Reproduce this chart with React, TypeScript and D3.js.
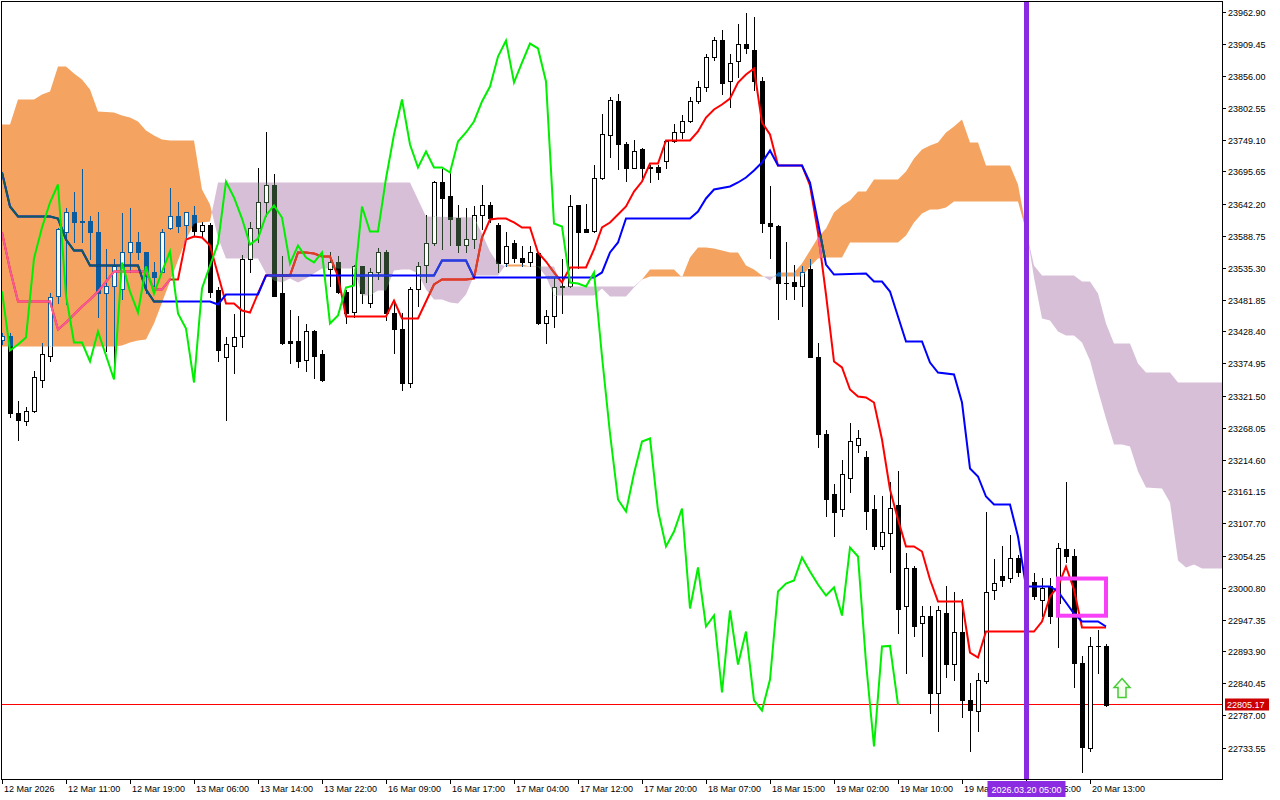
import React from "react";
import * as d3 from "d3";

// H1 candles, oldest first
const opens = [
  23415.0, 23421.7, 23293.1, 23279.7, 23294.8, 23346.6, 23388.3, 23486.9, 23595.4, 23627.2,
  23610.5, 23613.8, 23593.8, 23491.9, 23503.6, 23498.6, 23562.0, 23578.7, 23560.4, 23528.6,
  23528.6, 23602.1, 23620.5, 23605.5, 23623.8, 23597.1, 23607.1, 23496.9, 23385.0, 23405.0,
  23420.1, 23550.3, 23602.1, 23643.9, 23672.3, 23491.9, 23411.7, 23411.7, 23380.0, 23428.4,
  23390.0, 23532.0, 23543.7, 23495.2, 23461.8, 23537.0, 23476.8, 23528.6, 23562.0, 23458.5,
  23433.4, 23343.2, 23498.6, 23540.3, 23575.4, 23678.9, 23653.9, 23618.8, 23573.7, 23583.7,
  23622.2, 23638.9, 23605.5, 23542.0, 23575.4, 23552.0, 23543.7, 23558.7, 23443.4, 23453.5,
  23501.9, 23503.6, 23638.9, 23598.8, 23597.1, 23685.6, 23755.8, 23814.2, 23742.4, 23702.3,
  23732.4, 23704.0, 23704.0, 23712.4, 23745.8, 23760.8, 23779.2, 23812.6, 23837.6, 23886.1,
  23914.5, 23846.0, 23879.4, 23909.4, 23899.4, 23847.6, 23608.8, 23603.8, 23510.2, 23511.9,
  23503.6, 23533.6, 23386.6, 23258.0, 23157.8, 23131.1, 23184.5, 23238.0, 23219.6, 23131.1,
  23069.3, 23091.0, 23137.8, 22969.1, 23034.2, 22940.7, 22952.4, 22825.4, 22959.0, 22872.2,
  22927.3, 22813.7, 22793.7, 22843.8, 22995.8, 23019.2, 23017.5, 23050.9, 23027.5, 23009.2,
  22979.1, 23002.5, 22975.7, 23064.3, 23052.6, 22875.5, 22731.9, 22903.9, 22903.9,
];
const highs = [
  23426.7, 23425.1, 23311.5, 23303.1, 23361.6, 23408.4, 23491.9, 23602.1, 23635.5, 23660.6,
  23699.0, 23620.5, 23627.2, 23565.4, 23548.7, 23625.5, 23633.9, 23593.8, 23562.0, 23545.3,
  23598.8, 23667.3, 23643.9, 23628.8, 23637.2, 23610.5, 23608.8, 23501.9, 23418.4, 23456.8,
  23557.0, 23610.5, 23702.3, 23760.8, 23692.3, 23553.7, 23463.5, 23453.5, 23440.1, 23430.1,
  23398.3, 23562.0, 23553.7, 23496.9, 23540.3, 23538.6, 23535.3, 23568.7, 23563.7, 23478.5,
  23460.1, 23501.9, 23543.7, 23623.8, 23680.6, 23699.0, 23695.7, 23640.5, 23635.5, 23637.2,
  23673.9, 23643.9, 23608.8, 23595.4, 23580.4, 23570.4, 23572.0, 23560.4, 23465.1, 23518.6,
  23548.7, 23657.2, 23640.5, 23642.2, 23707.3, 23792.5, 23819.3, 23824.3, 23744.1, 23749.1,
  23735.7, 23705.7, 23705.7, 23749.1, 23775.8, 23789.2, 23820.9, 23847.6, 23891.1, 23921.1,
  23932.8, 23891.1, 23941.2, 23959.6, 23952.9, 23854.3, 23670.6, 23605.5, 23578.7, 23540.3,
  23538.6, 23550.3, 23408.4, 23264.7, 23174.5, 23214.6, 23276.4, 23264.7, 23229.6, 23154.5,
  23152.8, 23176.2, 23194.6, 23057.6, 23035.9, 22970.7, 22970.7, 22970.7, 23002.5, 22994.1,
  22982.4, 22842.1, 22857.2, 23126.1, 23049.2, 23069.3, 23089.3, 23055.9, 23037.5, 23024.2,
  23017.5, 23017.5, 23074.3, 23176.2, 23064.3, 22885.6, 22917.3, 22930.6, 22905.6,
];
const lows = [
  23406.7, 23284.8, 23248.0, 23271.4, 23293.5, 23334.9, 23378.3, 23476.8, 23473.5, 23577.1,
  23577.1, 23548.7, 23451.8, 23395.0, 23373.3, 23481.9, 23527.0, 23548.7, 23493.5, 23503.6,
  23527.0, 23598.8, 23593.8, 23582.1, 23587.1, 23587.1, 23485.2, 23378.3, 23281.4, 23359.9,
  23403.3, 23527.0, 23578.7, 23620.5, 23486.9, 23406.7, 23376.6, 23368.3, 23361.6, 23349.9,
  23344.9, 23503.6, 23493.5, 23443.4, 23451.8, 23476.8, 23468.5, 23515.3, 23448.4, 23391.7,
  23331.5, 23334.9, 23470.2, 23511.9, 23573.7, 23565.4, 23573.7, 23562.0, 23560.4, 23568.7,
  23598.8, 23610.5, 23528.6, 23537.0, 23545.3, 23537.0, 23537.0, 23440.1, 23410.0, 23435.1,
  23460.1, 23502.0, 23535.3, 23593.8, 23595.4, 23682.3, 23720.7, 23699.0, 23680.6, 23700.7,
  23680.6, 23678.9, 23682.3, 23700.7, 23744.1, 23750.8, 23777.5, 23810.9, 23829.3, 23882.7,
  23824.3, 23804.2, 23854.3, 23894.4, 23832.6, 23593.8, 23552.0, 23450.1, 23481.9, 23481.9,
  23470.2, 23385.0, 23236.3, 23119.4, 23086.0, 23119.4, 23159.5, 23226.3, 23097.7, 23064.3,
  23065.9, 23025.9, 22925.6, 22858.8, 22919.0, 22885.6, 22792.0, 22760.3, 22852.1, 22847.1,
  22783.7, 22726.9, 22760.3, 22842.0, 22980.8, 23002.5, 23009.2, 23019.2, 22997.5, 22980.8,
  22952.4, 22942.3, 22900.6, 23042.6, 22835.4, 22691.8, 22726.9, 22857.2, 22803.7,
];
const closes = [
  23421.7, 23293.1, 23281.4, 23296.4, 23353.2, 23390.0, 23485.2, 23598.8, 23627.2, 23612.1,
  23613.8, 23593.8, 23493.5, 23503.6, 23537.0, 23562.0, 23578.7, 23560.4, 23520.3, 23518.6,
  23595.4, 23620.5, 23603.8, 23627.2, 23597.1, 23605.5, 23495.2, 23396.7, 23406.7, 23418.4,
  23550.3, 23602.1, 23643.9, 23673.9, 23488.5, 23410.0, 23410.0, 23378.3, 23428.4, 23388.3,
  23348.2, 23543.7, 23495.2, 23460.1, 23537.0, 23491.9, 23528.6, 23562.0, 23458.5, 23433.4,
  23343.2, 23500.2, 23538.6, 23575.4, 23678.9, 23652.2, 23617.1, 23573.7, 23583.7, 23622.2,
  23638.9, 23618.8, 23542.0, 23572.0, 23552.0, 23543.7, 23560.4, 23441.8, 23455.1, 23501.9,
  23505.2, 23637.2, 23595.4, 23595.4, 23684.0, 23757.5, 23815.9, 23740.8, 23702.3, 23729.1,
  23702.3, 23702.3, 23694.0, 23745.8, 23760.8, 23779.2, 23812.6, 23837.6, 23887.7, 23914.5,
  23844.3, 23877.7, 23909.4, 23901.1, 23846.0, 23608.8, 23603.8, 23510.2, 23508.6, 23503.6,
  23527.0, 23386.6, 23258.0, 23147.8, 23127.7, 23191.2, 23244.7, 23249.7, 23129.4, 23069.3,
  23094.3, 23132.8, 22965.7, 23034.2, 22935.7, 22954.0, 22825.4, 22962.4, 22872.2, 22927.3,
  22812.1, 22795.4, 22847.1, 22994.1, 23007.5, 23012.5, 23050.9, 23027.5, 23005.8, 22987.4,
  23000.8, 22954.0, 23067.6, 23052.6, 22875.5, 22735.2, 22902.3, 22903.2, 22805.17,
];

// ichimoku lines: [bar, price]
const tenkan: [number, number][] = [
  [0, 23593.8], [1, 23532.0], [2, 23478.5], [6, 23478.5], [7, 23431.7], [8, 23443.4], [9, 23456.8],
  [10, 23470.2], [11, 23481.9], [12, 23495.2], [13, 23511.9], [14, 23528.6], [18, 23528.6],
  [19, 23498.6], [20, 23498.6], [21, 23515.3], [22, 23515.3], [23, 23582.1], [24, 23587.1],
  [25, 23585.4], [26, 23572.0], [27, 23523.6], [28, 23475.2], [29, 23475.2], [30, 23463.5],
  [31, 23460.1], [32, 23491.9], [33, 23521.9], [36, 23521.9], [37, 23560.4], [38, 23560.4],
  [39, 23558.7], [40, 23553.7], [41, 23553.7], [42, 23520.3], [43, 23453.5], [48, 23453.5],
  [49, 23480.2], [50, 23450.1], [52, 23450.1], [53, 23478.5], [54, 23506.9], [55, 23515.3],
  [58, 23515.3], [59, 23516.9], [60, 23585.4], [61, 23615.5], [62, 23617.1], [63, 23617.1],
  [64, 23610.5], [65, 23602.1], [66, 23602.1], [67, 23560.4], [68, 23545.3], [69, 23527.0],
  [70, 23510.2], [71, 23535.3], [73, 23535.3], [74, 23565.4], [75, 23602.1], [76, 23610.5],
  [77, 23623.8], [78, 23637.2], [79, 23662.2], [80, 23678.9], [81, 23709.0], [82, 23709.0],
  [83, 23747.4], [86, 23747.4], [87, 23762.5], [88, 23785.8], [89, 23799.2], [90, 23807.6],
  [91, 23817.6], [92, 23844.3], [93, 23857.7], [94, 23867.7], [95, 23777.5], [96, 23757.5],
  [97, 23705.7], [100, 23705.7], [101, 23672.3], [102, 23593.8], [103, 23490.2], [104, 23378.3],
  [105, 23368.3], [106, 23331.5], [107, 23319.8], [108, 23318.2], [109, 23309.8], [110, 23248.0],
  [111, 23164.5], [112, 23114.4], [113, 23069.3], [114, 23069.3], [115, 23060.9], [116, 23014.2],
  [117, 22977.4], [120, 22977.4], [121, 22892.2], [122, 22883.9], [123, 22927.3], [129, 22927.3],
  [130, 22944.0], [131, 22985.8], [132, 23002.5], [133, 23035.9], [134, 22997.5], [135, 22934.0],
  [138, 22934.0],
];
const kijun: [number, number][] = [
  [0, 23694.0], [1, 23637.2], [2, 23620.5], [6, 23620.5], [7, 23617.1], [8, 23582.1], [9, 23563.7],
  [10, 23563.7], [11, 23538.6], [17, 23538.6], [18, 23498.6], [19, 23478.5], [26, 23478.5],
  [27, 23473.5], [28, 23490.2], [32, 23490.2], [33, 23521.9], [54, 23521.9], [55, 23547.0],
  [58, 23547.0], [59, 23518.6], [74, 23518.6], [75, 23527.0], [76, 23560.4], [77, 23577.1],
  [78, 23617.1], [86, 23617.1], [87, 23628.8], [88, 23650.6], [89, 23665.6], [91, 23670.6],
  [92, 23677.3], [93, 23685.6], [94, 23697.3], [95, 23710.7], [96, 23730.7], [97, 23705.7],
  [100, 23705.7], [101, 23677.3], [102, 23610.5], [103, 23540.3], [104, 23523.6], [108, 23525.3],
  [109, 23511.9], [110, 23511.9], [111, 23495.2], [112, 23453.5], [113, 23411.7], [115, 23411.7],
  [116, 23376.6], [117, 23359.9], [119, 23356.6], [120, 23309.8], [121, 23199.6], [122, 23186.2],
  [123, 23152.8], [124, 23139.4], [126, 23139.4], [127, 23086.0], [128, 23002.5], [131, 23002.5],
  [132, 22994.1], [133, 22975.7], [134, 22957.4], [135, 22944.0], [137, 22944.0], [138, 22935.7],
];
const spanA: [number, number][] = [
  [0, 23774.2], [1, 23774.2], [2, 23815.9], [4, 23815.9], [5, 23824.3], [6, 23829.3], [7, 23871.0],
  [8, 23871.0], [9, 23859.3], [10, 23849.3], [11, 23832.6], [12, 23795.9], [14, 23794.2],
  [15, 23789.2], [16, 23785.8], [17, 23779.2], [18, 23764.1], [19, 23755.8], [20, 23749.1],
  [21, 23747.4], [24, 23747.4], [25, 23665.6], [26, 23640.5], [27, 23585.4], [28, 23550.3],
  [32, 23550.3], [33, 23525.3], [34, 23513.6], [35, 23510.2], [36, 23516.9], [37, 23510.2],
  [38, 23516.9], [39, 23525.3], [40, 23533.6], [44, 23533.6], [45, 23488.5], [46, 23488.5],
  [47, 23496.9], [48, 23496.9], [49, 23530.3], [50, 23532.0], [51, 23532.0], [52, 23525.3],
  [53, 23498.6], [54, 23481.9], [55, 23481.9], [56, 23476.8], [57, 23475.2], [58, 23490.2],
  [59, 23521.9], [62, 23521.9], [63, 23540.3], [65, 23540.3], [66, 23537.0], [67, 23537.0],
  [68, 23520.3], [69, 23488.5], [74, 23488.5], [75, 23500.2], [76, 23486.9], [78, 23486.9],
  [79, 23501.9], [80, 23515.3], [81, 23532.0], [84, 23532.0], [85, 23518.6], [86, 23552.0],
  [87, 23568.7], [88, 23568.7], [89, 23567.0], [90, 23563.7], [91, 23560.4], [92, 23560.4],
  [93, 23538.6], [94, 23532.0], [95, 23521.9], [96, 23513.6], [97, 23527.0], [99, 23527.0],
  [100, 23542.0], [101, 23563.7], [102, 23585.4], [103, 23600.4], [104, 23627.2], [105, 23638.9],
  [106, 23647.2], [107, 23662.2], [108, 23662.2], [109, 23682.3], [112, 23682.3], [113, 23695.7],
  [114, 23717.4], [115, 23732.4], [116, 23739.1], [117, 23744.1], [118, 23760.8], [119, 23770.8],
  [120, 23782.5], [121, 23744.1], [122, 23744.1], [123, 23705.7], [126, 23705.7], [127, 23673.9],
  [128, 23602.1], [129, 23518.6], [130, 23450.1], [131, 23446.8], [132, 23428.4], [133, 23421.7],
  [134, 23421.7], [135, 23410.0], [136, 23380.0], [137, 23329.9], [138, 23283.1], [139, 23239.7],
  [140, 23239.7], [141, 23236.3], [142, 23194.6], [143, 23167.8], [145, 23166.2], [146, 23142.8],
  [147, 23045.9], [148, 23034.2], [149, 23039.2], [150, 23032.5], [153, 23032.5],
];
const spanB: [number, number][] = [
  [0, 23403.3], [14, 23403.3], [15, 23405.0], [16, 23410.0], [17, 23413.4], [18, 23415.0],
  [19, 23441.8], [20, 23476.8], [21, 23511.9], [22, 23547.0], [23, 23582.1], [24, 23608.8],
  [26, 23612.1], [27, 23677.3], [51, 23677.3], [52, 23648.9], [53, 23620.5], [59, 23618.8],
  [60, 23592.1], [61, 23562.0], [62, 23542.0], [63, 23537.0], [69, 23537.0], [70, 23503.6],
  [79, 23503.6], [80, 23515.3], [81, 23520.3], [100, 23520.3], [101, 23537.0], [102, 23550.3],
  [103, 23552.0], [105, 23552.0], [106, 23577.1], [112, 23577.1], [113, 23588.8], [114, 23610.5],
  [115, 23625.5], [116, 23632.2], [117, 23632.2], [118, 23635.5], [119, 23645.5], [127, 23645.5],
  [128, 23597.1], [129, 23538.6], [130, 23521.9], [134, 23521.9], [135, 23511.9], [136, 23511.9],
  [137, 23491.9], [138, 23441.8], [139, 23408.4], [141, 23408.4], [142, 23375.0], [143, 23359.9],
  [146, 23359.9], [147, 23343.2], [153, 23343.2],
];
const chikouShift = 26;

const yTicks = [
  23962.9, 23909.45, 23856.0, 23802.55, 23749.1, 23695.65, 23642.2, 23588.75, 23535.3, 23481.85,
  23428.4, 23374.95, 23321.5, 23268.05, 23214.6, 23161.15, 23107.7, 23054.25, 23000.8, 22947.35,
  22893.9, 22840.45, 22787.0, 22733.55,
];
const xTickBars = [0, 8, 16, 24, 32, 40, 48, 56, 64, 72, 80, 88, 96, 104, 112, 120, 128, 136];
const xTickLabels = [
  "12 Mar 2026", "12 Mar 11:00", "12 Mar 19:00", "13 Mar 06:00", "13 Mar 14:00", "13 Mar 22:00",
  "16 Mar 09:00", "16 Mar 17:00", "17 Mar 04:00", "17 Mar 12:00", "17 Mar 20:00", "18 Mar 07:00",
  "18 Mar 15:00", "19 Mar 02:00", "19 Mar 10:00", "19 Mar 18:00", "20 Mar 05:00", "20 Mar 13:00",
];

const lastPrice = 22805.17;
const markerBar = 128;
const markerLabel = "2026.03.20 05:00";
const boxBars = [132, 138];
const boxPrices = [23015.8, 22953.7];
const arrowBar = 140;
const arrowPrice = 22817;

const L = 2, R = 1222, T = 2, B = 779;
const FONT = "'Liberation Sans', Arial, sans-serif";

export default function App() {
  const x = d3.scaleLinear().domain([0, 152.5]).range([L, R]);
  const y = d3.scaleLinear().domain([22733.55, 23962.9]).range([747.5, 11.5]);

  const linePath = (pts: [number, number][]) =>
    d3.line<[number, number]>().x((d) => x(d[0])).y((d) => y(d[1]))(pts) || "";
  const areaTo = (pts: [number, number][], edge: number) =>
    d3.area<[number, number]>().x((d) => x(d[0])).y0(edge).y1((d) => y(d[1]))(pts) || "";

  const chikou: [number, number][] = closes.slice(chikouShift).map((c, i) => [i, c]);

  const candles = (ink: string) =>
    opens.map((o, i) => {
      const c = closes[i];
      const cx = Math.round(x(i));
      const yo = Math.round(y(o));
      const yc = Math.round(y(c));
      const top = Math.min(yo, yc);
      const bot = Math.max(yo, yc);
      return (
        <g key={i}>
          <line x1={cx + 0.5} x2={cx + 0.5} y1={Math.round(y(highs[i]))} y2={Math.round(y(lows[i])) + 1} stroke={ink} />
          {bot - top < 1 ? (
            <line x1={cx - 2} x2={cx + 3} y1={top + 0.5} y2={top + 0.5} stroke={ink} />
          ) : (
            <rect x={cx - 1.5} y={top + 0.5} width={4} height={bot - top} fill={c > o ? "#ffffff" : ink} stroke={ink} />
          )}
        </g>
      );
    });

  const inOrange = (node: React.ReactNode) => (
    <g clipPath="url(#aboveB)">
      <g clipPath="url(#belowA)">{node}</g>
    </g>
  );
  const inPurple = (node: React.ReactNode) => (
    <g clipPath="url(#belowB)">
      <g clipPath="url(#aboveA)">{node}</g>
    </g>
  );

  const tPath = linePath(tenkan);
  const kPath = linePath(kijun);
  const yLast = Math.floor(y(lastPrice)) + 0.5;
  const mx = x(markerBar) + 0.5;
  const ax = x(arrowBar);
  const ab = y(arrowPrice);
  const arrow = `M${ax},${ab - 19}L${ax + 8},${ab - 10}L${ax + 4},${ab - 10}L${ax + 4},${ab}L${ax - 4},${ab}L${ax - 4},${ab - 10}L${ax - 8},${ab - 10}Z`;

  return (
    <svg width={1280} height={800} style={{ position: "absolute", left: 0, top: 0, background: "#fff" }} fontFamily={FONT}>
      <defs>
        <clipPath id="plot">
          <rect x={L} y={T} width={R - L} height={B - T} />
        </clipPath>
        <clipPath id="aboveA"><path d={areaTo(spanA, 0)} /></clipPath>
        <clipPath id="belowA"><path d={areaTo(spanA, B)} /></clipPath>
        <clipPath id="aboveB"><path d={areaTo(spanB, 0)} /></clipPath>
        <clipPath id="belowB"><path d={areaTo(spanB, B)} /></clipPath>
      </defs>
      <rect width={1280} height={800} fill="#fff" />

      <g clipPath="url(#plot)">
        {inOrange(<rect x={0} y={0} width={1280} height={800} fill="#F4A460" />)}
        {inPurple(<rect x={0} y={0} width={1280} height={800} fill="#D8BFD8" />)}

        <line x1={L} x2={R} y1={yLast} y2={yLast} stroke="#ff0000" shapeRendering="crispEdges" />

        <g shapeRendering="crispEdges">
          {candles("#000000")}
          {inOrange(candles("#0B5B9F"))}
          {inPurple(candles("#274027"))}
        </g>

        <path d={tPath} fill="none" stroke="#ff0000" strokeWidth={2} />
        {inOrange(<path d={tPath} fill="none" stroke="#F45B9F" strokeWidth={2} />)}
        {inPurple(<path d={tPath} fill="none" stroke="#D84027" strokeWidth={2} />)}
        <path d={kPath} fill="none" stroke="#0000ff" strokeWidth={2} />
        {inOrange(<path d={kPath} fill="none" stroke="#0B5B60" strokeWidth={2} />)}
        {inPurple(<path d={kPath} fill="none" stroke="#2740D8" strokeWidth={2} />)}
        <path d={linePath(chikou)} fill="none" stroke="#00ee00" strokeWidth={2} />

        <line x1={mx} x2={mx} y1={T} y2={B} stroke="#8A2BE2" strokeWidth={5} />
        <rect
          x={x(boxBars[0])}
          y={y(boxPrices[0])}
          width={x(boxBars[1]) - x(boxBars[0])}
          height={y(boxPrices[1]) - y(boxPrices[0])}
          fill="none"
          stroke="#F840F8"
          strokeWidth={4}
        />
        <path d={arrow} fill="#f4fff0" stroke="#44cc33" strokeWidth={1.5} strokeLinejoin="miter" />
      </g>

      <rect x={L - 0.5} y={T - 0.5} width={R - L + 1} height={B - T + 1} fill="none" stroke="#000" shapeRendering="crispEdges" />

      <g fontSize={9} fill="#000" shapeRendering="crispEdges">
        {yTicks.map((v) => {
          const ty = Math.round(y(v)) + 0.5;
          return (
            <g key={v}>
              <line x1={R} x2={R + 4} y1={ty} y2={ty} stroke="#000" />
              <text x={R + 6} y={ty + 3.5}>{v.toFixed(2)}</text>
            </g>
          );
        })}
        {xTickBars.map((b, k) => {
          const tx = Math.round(x(b)) + 0.5;
          return (
            <g key={b}>
              <line x1={tx} x2={tx} y1={B} y2={B + 5} stroke="#000" />
              <text x={tx + 1.5} y={792}>{xTickLabels[k]}</text>
            </g>
          );
        })}
      </g>

      <rect x={R + 3} y={yLast - 6} width={44} height={12} fill="#cc0000" />
      <text x={R + 5} y={yLast + 3.5} fontSize={9} fill="#fff">{lastPrice.toFixed(2)}</text>

      <rect x={mx - 39} y={781} width={78} height={16} fill="#8A2BE2" />
      <text x={mx} y={792.5} fontSize={9} fill="#fff" textAnchor="middle">{markerLabel}</text>
    </svg>
  );
}
